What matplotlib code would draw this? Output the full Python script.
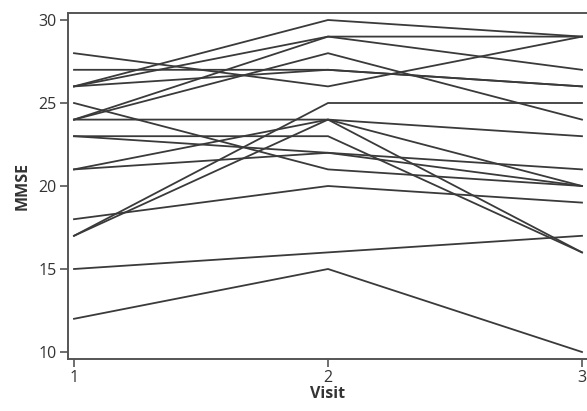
import matplotlib
matplotlib.use("Agg")
import matplotlib.pyplot as plt

visits = [1, 2, 3]
subj_01 = [28, 26, 29]
subj_02 = [27, 27, 26]
subj_03 = [26, 30, 29]
subj_04 = [26, 29, 29]
subj_05 = [26, 27, 26]
subj_06 = [25, 21, 20]
subj_07 = [24, 29, 27]
subj_08 = [24, 28, 24]
subj_09 = [24, 24, 23]
subj_10 = [23, 23, 16]
subj_11 = [23, 22, 21]
subj_12 = [21, 24, 20]
subj_13 = [21, 22, 20]
subj_14 = [18, 20, 19]
subj_15 = [17, 25, 25]
subj_16 = [17, 24, 16]
subj_17 = [15, 16, 17]
subj_18 = [12, 15, 10]
subjects = [subj_01, subj_02, subj_03, subj_04, subj_05, subj_06, subj_07, subj_08,
            subj_09, subj_10, subj_11, subj_12, subj_13, subj_14, subj_15, subj_16,
            subj_17, subj_18]
yticks = [10, 15, 20, 25, 30]
xticks = [1, 2, 3]

plt.rcParams['font.family'] = ['Open Sans', 'DejaVu Sans']

fig = plt.figure(figsize=(5.87, 4.11), dpi=100)
ax = fig.add_axes([68/587, 52/411, 1 - 68/587, (359-13.3)/411])

for s in subjects:
    ax.plot(visits, s, color='#3a3a3a', lw=1.3, solid_joinstyle='miter')

ax.set_xlim(1 - 6/254, 3 + 5/254)
ax.set_ylim(10 - 7/16.6, 30 + 6.7/16.6)
ax.set_xticks(xticks)
ax.set_yticks(yticks)
ax.set_xticklabels([str(x) for x in xticks])
ax.set_yticklabels([str(y) for y in yticks])

for side in ['left', 'bottom', 'top']:
    ax.spines[side].set_color('#555555')
    ax.spines[side].set_linewidth(1.4)
ax.spines['right'].set_visible(False)

ax.tick_params(axis='both', direction='out', length=6, width=1.2, color='#555555',
               labelsize=11.5, labelcolor='#333333', pad=2)

ax.set_xlabel('Visit', fontsize=11.5, fontweight='bold', color='#333333', labelpad=0)
ax.set_ylabel('MMSE', fontsize=11.5, fontweight='bold', color='#333333', labelpad=6)

fig.savefig('out.png', dpi=100)
